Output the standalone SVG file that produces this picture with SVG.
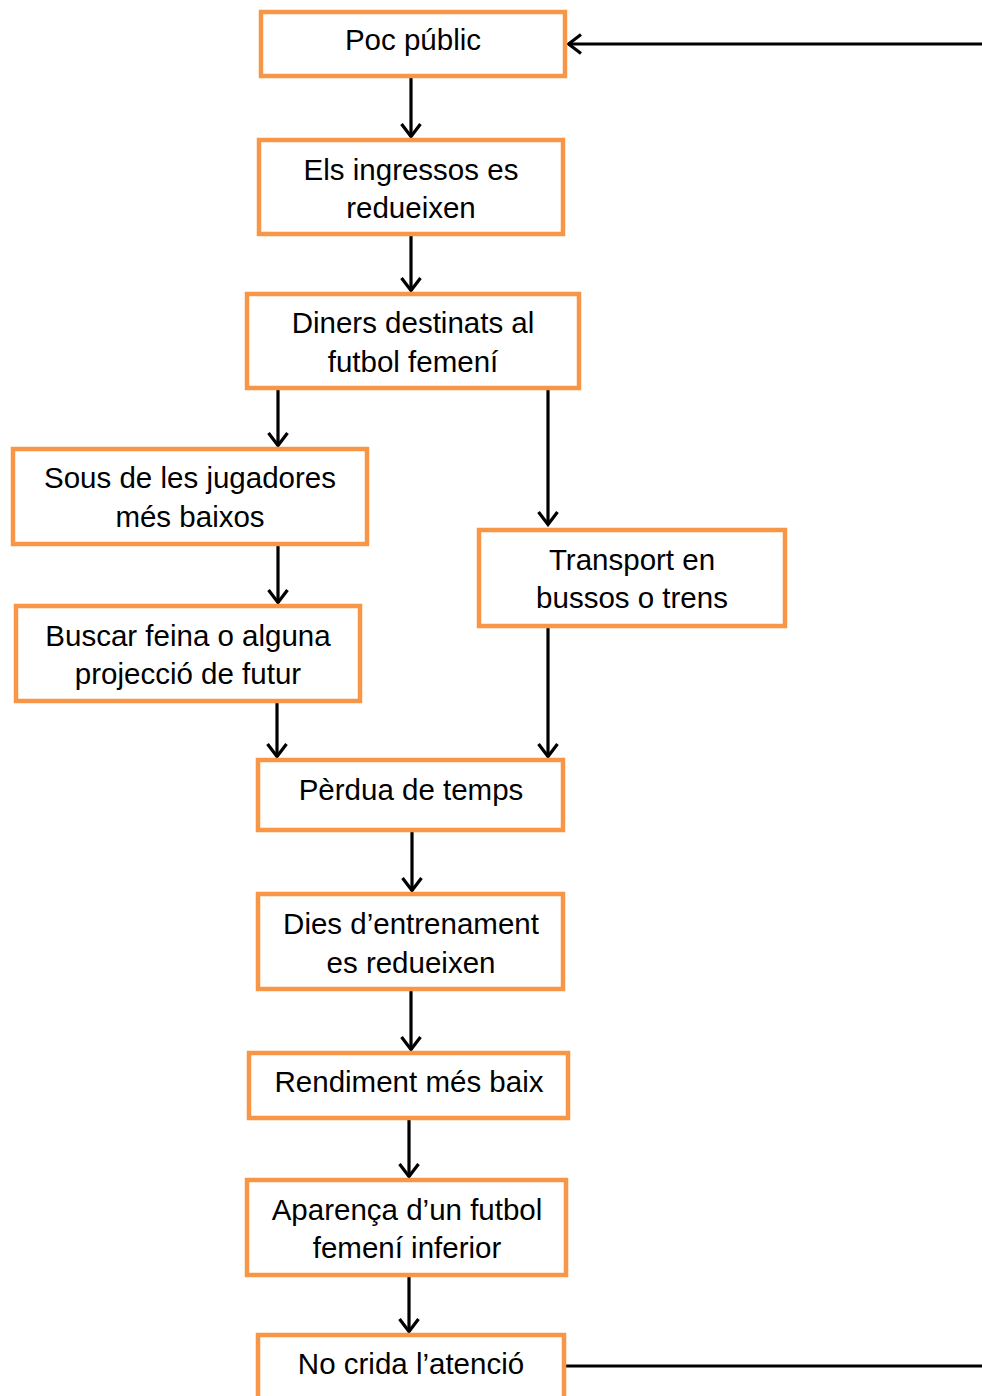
<svg xmlns="http://www.w3.org/2000/svg" width="982" height="1396" viewBox="0 0 982 1396">
<style>
.box{fill:#fff;stroke:#F79646;stroke-width:4.5}
.t{font-family:"Liberation Sans",Arial,sans-serif;font-size:29.5px;fill:#000;text-anchor:middle}
.c{stroke:#000;stroke-width:3.2;fill:none}
</style>
<defs>
<marker id="ah" viewBox="0 0 16 22" refX="14.5" refY="11" markerWidth="16" markerHeight="22" markerUnits="userSpaceOnUse" orient="auto">
<path d="M1.5,1.5 L14,11 L1.5,20.5" fill="none" stroke="#000" stroke-width="3.2"/>
</marker>
</defs>
<rect width="982" height="1396" fill="#fff"/>
<g id="connectors">
<line class="c" x1="411" y1="78" x2="411" y2="137" marker-end="url(#ah)"/>
<line class="c" x1="411" y1="236" x2="411" y2="291" marker-end="url(#ah)"/>
<line class="c" x1="278" y1="390" x2="278" y2="446" marker-end="url(#ah)"/>
<line class="c" x1="548" y1="390" x2="548" y2="525" marker-end="url(#ah)"/>
<line class="c" x1="278" y1="546" x2="278" y2="603" marker-end="url(#ah)"/>
<line class="c" x1="277" y1="703" x2="277" y2="757" marker-end="url(#ah)"/>
<line class="c" x1="548" y1="627" x2="548" y2="757" marker-end="url(#ah)"/>
<line class="c" x1="412" y1="832" x2="412" y2="891" marker-end="url(#ah)"/>
<line class="c" x1="411" y1="991" x2="411" y2="1050" marker-end="url(#ah)"/>
<line class="c" x1="409" y1="1120" x2="409" y2="1177" marker-end="url(#ah)"/>
<line class="c" x1="409" y1="1277" x2="409" y2="1332" marker-end="url(#ah)"/>
<line class="c" x1="566" y1="1366" x2="982" y2="1366"/>
<line class="c" x1="982" y1="44" x2="568" y2="44" marker-end="url(#ah)"/>
</g>
<g id="n1"><rect class="box" x="261" y="12" width="304" height="64"/><text class="t" x="413" y="50">Poc públic</text></g>
<g id="n2"><rect class="box" x="259" y="140" width="304" height="94"/><text class="t" x="411" y="180">Els ingressos es</text><text class="t" x="411" y="218">redueixen</text></g>
<g id="n3"><rect class="box" x="247" y="294" width="332" height="94"/><text class="t" x="413" y="333">Diners destinats al</text><text class="t" x="413" y="372">futbol femení</text></g>
<g id="n4"><rect class="box" x="13" y="449" width="354" height="95"/><text class="t" x="190" y="488">Sous de les jugadores</text><text class="t" x="190" y="527">més baixos</text></g>
<g id="n5"><rect class="box" x="16" y="606" width="344" height="95"/><text class="t" x="188" y="646">Buscar feina o alguna</text><text class="t" x="188" y="684">projecció de futur</text></g>
<g id="n6"><rect class="box" x="479" y="530" width="306" height="96"/><text class="t" x="632" y="570">Transport en</text><text class="t" x="632" y="608">bussos o trens</text></g>
<g id="n7"><rect class="box" x="258" y="760" width="305" height="70"/><text class="t" x="411" y="800">Pèrdua de temps</text></g>
<g id="n8"><rect class="box" x="258" y="894" width="305" height="95"/><text class="t" x="411" y="934">Dies d’entrenament</text><text class="t" x="411" y="973">es redueixen</text></g>
<g id="n9"><rect class="box" x="249" y="1053" width="319" height="65"/><text class="t" x="409" y="1092">Rendiment més baix</text></g>
<g id="n10"><rect class="box" x="247" y="1180" width="319" height="95"/><text class="t" x="407" y="1220">Aparença d’un futbol</text><text class="t" x="407" y="1258">femení inferior</text></g>
<g id="n11"><rect class="box" x="258" y="1335" width="306" height="70"/><text class="t" x="411" y="1374">No crida l’atenció</text></g>
</svg>
